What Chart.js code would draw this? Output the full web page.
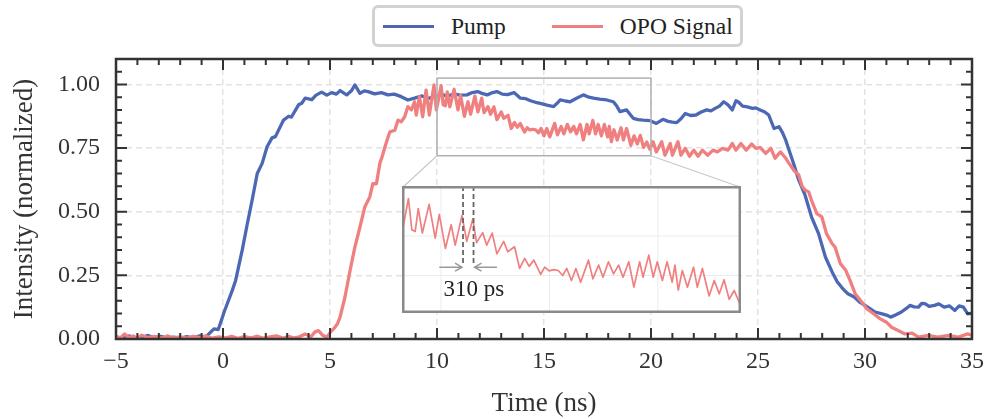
<!DOCTYPE html>
<html>
<head>
<meta charset="utf-8">
<script src="https://cdn.jsdelivr.net/npm/chart.js@4.4.1/dist/chart.umd.min.js"></script>
<style>
  html, body { margin: 0; padding: 0; background: #fff; }
  canvas { display: block; }
  #wrap { position: relative; width: 992px; height: 419px; }
  #inset { position: absolute; left: 402px; top: 186px; width: 339px; height: 127px; background: #fff; }
  #legend {
    position: absolute; left: 372px; top: 5px; width: 371px; height: 42px;
    box-sizing: border-box; border: 3px solid #d2d2d2; border-radius: 6px; background: #fff;
    display: flex; align-items: center; padding-left: 8px; white-space: nowrap;
    font-family: "Liberation Serif", "Times New Roman", serif; font-size: 23.5px; color: #222;
  }
  #legend .item { display: flex; align-items: center; margin-right: 46px; flex-shrink: 0; }
  #legend .swatch { width: 51px; height: 3px; margin-right: 17px; flex-shrink: 0; }
</style>
</head>
<body>
<div id="wrap">
  <canvas id="main" width="992" height="419"></canvas>
  <div id="inset"><canvas id="insetCanvas" width="339" height="127"></canvas></div>
  <div id="legend"></div>
</div>
<script>
// time axis in ns, intensity normalized
var pumpT = [
  -5, -4.7, -4.4, -4.1, -3.8, -3.5, -3.2, -2.9, -2.6, -2.3,
  -2, -1.7, -1.4, -1.1, -0.8, -0.6, -0.42, -0.22, 0.07, 0.43,
  0.59, 0.9, 1.13, 1.36, 1.6, 1.83, 2.06, 2.29, 2.45, 2.83,
  3.07, 3.2, 3.53, 3.68, 3.84, 4.15, 4.35, 4.61, 4.85, 5.08,
  5.3, 5.47, 5.78, 6, 6.16, 6.4, 6.6, 6.78, 7.09, 7.4,
  7.71, 8, 8.33, 8.64, 8.95, 9.3, 9.6, 9.9, 10.2, 10.5,
  10.8, 11.1, 11.4, 11.65, 11.9, 12.1, 12.35, 12.6, 12.8, 13.05,
  13.3, 13.6, 13.9, 14.15, 14.37, 14.6, 14.83, 15.14, 15.45, 15.6,
  15.76, 16, 16.22, 16.5, 16.84, 17.1, 17.31, 17.6, 17.93, 18.24,
  18.4, 18.55, 18.86, 19.17, 19.4, 19.63, 19.94, 20.25, 20.56, 20.8,
  21, 21.2, 21.4, 21.6, 21.85, 22.1, 22.35, 22.6, 22.8, 23,
  23.2, 23.4, 23.6, 23.8, 23.97, 24.1, 24.28, 24.5, 24.74, 24.9,
  25.1, 25.3, 25.5, 25.75, 25.98, 26.15, 26.3, 26.5, 26.7, 26.9,
  27.2, 27.5, 27.83, 28.15, 28.5, 28.7, 28.9, 29.05, 29.2, 29.5,
  29.75, 30, 30.25, 30.47, 30.8, 31, 31.2, 31.45, 31.7, 31.9,
  32.1, 32.3, 32.5, 32.65, 32.8, 33, 33.25, 33.45, 33.7, 33.95,
  34.2, 34.4, 34.6, 34.8, 35
];
var pumpV = [
  0.008, 0.003, 0.012, 0.004, 0.006, 0.014, 0.005, 0.01, 0.003, 0.007,
  0.002, 0.009, 0.004, 0.012, 0.008, 0.025, 0.04, 0.037, 0.11, 0.19,
  0.23, 0.35, 0.45, 0.545, 0.65, 0.69, 0.755, 0.79, 0.795, 0.86,
  0.875, 0.872, 0.92, 0.926, 0.946, 0.94, 0.958, 0.97, 0.958, 0.968,
  0.962, 0.976, 0.959, 0.975, 0.998, 0.965, 0.975, 0.972, 0.963, 0.968,
  0.959, 0.962, 0.952, 0.939, 0.946, 0.955, 0.945, 0.952, 0.96, 0.955,
  0.962, 0.958, 0.959, 0.968, 0.972, 0.965, 0.959, 0.968, 0.972, 0.962,
  0.96, 0.968, 0.946, 0.944, 0.936, 0.93, 0.926, 0.919, 0.913, 0.925,
  0.939, 0.935, 0.932, 0.945, 0.959, 0.95, 0.946, 0.942, 0.939, 0.932,
  0.915, 0.893, 0.9, 0.867, 0.862, 0.86, 0.858, 0.847, 0.863, 0.855,
  0.852, 0.85, 0.865, 0.886, 0.878, 0.88, 0.892, 0.9, 0.896, 0.906,
  0.915, 0.932, 0.92, 0.9, 0.936, 0.93, 0.915, 0.912, 0.906, 0.908,
  0.9, 0.893, 0.88, 0.827, 0.834, 0.81, 0.78, 0.73, 0.68, 0.625,
  0.565, 0.48, 0.414, 0.322, 0.257, 0.225, 0.204, 0.19, 0.178, 0.165,
  0.145, 0.132, 0.118, 0.106, 0.099, 0.094, 0.086, 0.095, 0.106, 0.118,
  0.132, 0.126, 0.125, 0.14, 0.139, 0.128, 0.132, 0.138, 0.125, 0.13,
  0.112, 0.13, 0.125, 0.099, 0.102
];
var sigT = [
  -5, -4.8, -4.6, -4.4, -4.2, -4, -3.8, -3.5, -3.2, -2.9,
  -2.6, -2.3, -2, -1.7, -1.4, -1.1, -0.8, -0.5, -0.2, 0.1,
  0.4, 0.7, 1, 1.3, 1.6, 1.9, 2.2, 2.5, 2.8, 3.1,
  3.3, 3.53, 3.84, 4.1, 4.3, 4.46, 4.65, 4.85, 5.05, 5.23,
  5.35, 5.47, 5.7, 5.94, 6.16, 6.4, 6.63, 6.86, 7, 7.17,
  7.33, 7.45, 7.57, 7.7, 7.8, 8.03, 8.18, 8.33, 8.49, 8.64,
  8.8, 8.95, 9.03, 9.18, 9.33, 9.49, 9.64, 9.86, 9.97, 10.01,
  10.19, 10.29, 10.39, 10.48, 10.6, 10.8, 10.98, 11.1, 11.28, 11.45,
  11.57, 11.77, 11.91, 12.09, 12.2, 12.38, 12.5, 12.66, 12.8, 13,
  13.12, 13.32, 13.47, 13.62, 13.75, 13.89, 14.09, 14.21, 14.34, 14.48,
  14.61, 14.74, 14.86, 15, 15.13, 15.27, 15.5, 15.63, 15.8, 15.93,
  16.09, 16.24, 16.39, 16.52, 16.69, 16.84, 17.01, 17.11, 17.28, 17.41,
  17.53, 17.68, 17.82, 17.97, 18.05, 18.15, 18.27, 18.42, 18.6, 18.71,
  18.86, 19.06, 19.21, 19.36, 19.5, 19.65, 19.8, 19.95, 20.1, 20.25,
  20.5, 20.65, 20.9, 21, 21.26, 21.4, 21.6, 21.8, 22, 22.2,
  22.4, 22.65, 22.9, 23.1, 23.35, 23.6, 23.8, 23.97, 24.2, 24.45,
  24.7, 24.9, 25.1, 25.36, 25.6, 25.8, 26.05, 26.3, 26.45, 26.7,
  26.9, 27.06, 27.2, 27.37, 27.5, 27.75, 27.98, 28.2, 28.46, 28.6,
  28.85, 29.1, 29.3, 29.54, 29.85, 30.08, 30.4, 30.7, 31, 31.24,
  31.55, 31.86, 32.2, 32.5, 32.96, 33.4, 33.9, 34.35, 34.8, 35
];
var sigV = [
  0.01, 0.004, 0.02, 0.006, 0.012, 0.003, 0.015, 0.005, 0.01, 0.003,
  0.012, 0.004, 0.008, 0.003, 0.01, 0.005, 0.012, 0.003, 0.008, 0.004,
  0.01, 0.003, 0.009, 0.004, 0.011, 0.003, 0.008, 0.012, 0.004, 0.01,
  0.004, 0.007, 0.02, 0.008, 0.028, 0.033, 0.015, 0.007, 0.03, 0.046,
  0.06, 0.086, 0.165, 0.27, 0.36, 0.44, 0.52, 0.558, 0.61, 0.61,
  0.69, 0.72, 0.755, 0.79, 0.814, 0.82, 0.86, 0.853, 0.873, 0.913,
  0.9, 0.932, 0.88, 0.952, 0.873, 0.978, 0.88, 0.998, 0.9, 0.916,
  0.995, 0.92, 0.916, 0.971, 0.912, 0.981, 0.9, 0.957, 0.875, 0.932,
  0.883, 0.954, 0.892, 0.946, 0.889, 0.913, 0.883, 0.912, 0.862, 0.892,
  0.867, 0.879, 0.827, 0.851, 0.832, 0.847, 0.813, 0.83, 0.821, 0.824,
  0.822, 0.81, 0.827, 0.798, 0.827, 0.794, 0.847, 0.802, 0.835, 0.806,
  0.843, 0.814, 0.835, 0.806, 0.843, 0.782, 0.843, 0.806, 0.859, 0.806,
  0.843, 0.798, 0.843, 0.794, 0.835, 0.775, 0.822, 0.782, 0.83, 0.782,
  0.827, 0.761, 0.798, 0.766, 0.8, 0.753, 0.774, 0.745, 0.775, 0.735,
  0.775, 0.722, 0.768, 0.722, 0.775, 0.722, 0.749, 0.718, 0.742, 0.718,
  0.742, 0.722, 0.742, 0.735, 0.749, 0.742, 0.768, 0.742, 0.768, 0.742,
  0.766, 0.749, 0.753, 0.729, 0.749, 0.71, 0.735, 0.71, 0.69, 0.66,
  0.645, 0.6, 0.585, 0.578, 0.545, 0.493, 0.48, 0.414, 0.375, 0.361,
  0.296, 0.27, 0.23, 0.178, 0.145, 0.119, 0.099, 0.08, 0.066, 0.046,
  0.033, 0.02, 0.023, 0.007, 0.014, 0.007, 0.014, 0.007, 0.02, 0.014
];
var yTicks = [0, 0.25, 0.5, 0.75, 1.0];

// zoom window shown in the inset (ns, intensity)
var zoomT = [10, 20];
var zoomV = [0.72, 1.025];
// 310 ps period marker in the inset
var periodT = [11.8, 12.11];
var insetGridT = [11.15, 14.35, 17.55];
var insetGridV = [0.81, 0.905];

var serif = '"Liberation Serif", "Times New Roman", serif';
var blue = '#4C68B4';
var coral = '#F08080';
var ink = '#333';

let toPts = (ts, vs) => ts.map((t, i) => ({ x: t, y: vs[i] }));

const framePlugin = {
  id: 'frame',
  afterDatasetsDraw(chart) {
    const ctx = chart.ctx, a = chart.chartArea, x = chart.scales.x, y = chart.scales.y;
    ctx.save();
    // zoom window
    const rx0 = x.getPixelForValue(zoomT[0]), rx1 = x.getPixelForValue(zoomT[1]);
    const ryTop = y.getPixelForValue(zoomV[1]), ryBot = y.getPixelForValue(zoomV[0]);
    ctx.strokeStyle = '#b0b0b0';
    ctx.lineWidth = 1.5;
    ctx.strokeRect(rx0, ryTop, rx1 - rx0, ryBot - ryTop);
    // connectors to inset box
    const box = document.getElementById('inset');
    const bl = box.offsetLeft + 1, br = box.offsetLeft + box.offsetWidth - 1, bt = box.offsetTop + 1;
    ctx.strokeStyle = '#c8c8c8';
    ctx.lineWidth = 1.2;
    ctx.beginPath();
    ctx.moveTo(rx0, ryBot); ctx.lineTo(bl, bt);
    ctx.moveTo(rx1, ryBot); ctx.lineTo(br, bt);
    ctx.stroke();
    // frame
    ctx.strokeStyle = ink;
    ctx.lineWidth = 2.5;
    ctx.strokeRect(a.left, a.top, a.right - a.left, a.bottom - a.top);
    // inward ticks on all four sides
    ctx.lineWidth = 2;
    ctx.beginPath();
    for (let k = -5; k <= 35; k++) {
      const px = x.getPixelForValue(k);
      const len = k % 5 === 0 ? 11 : 6;
      ctx.moveTo(px, a.bottom); ctx.lineTo(px, a.bottom - len);
      ctx.moveTo(px, a.top); ctx.lineTo(px, a.top + len);
    }
    for (let k = 0; k <= 22; k++) {
      const py = y.getPixelForValue(k * 0.05);
      const len = k % 5 === 0 ? 11 : 6;
      ctx.moveTo(a.left, py); ctx.lineTo(a.left + len, py);
      ctx.moveTo(a.right, py); ctx.lineTo(a.right - len, py);
    }
    ctx.stroke();
    ctx.restore();
  }
};

let mainChart = new Chart(document.getElementById('main'), {
  type: 'line',
  data: {
    datasets: [{
      label: 'Pump',
      data: toPts(pumpT, pumpV),
      borderColor: blue,
      borderWidth: 3.3,
      borderJoinStyle: 'round',
      borderCapStyle: 'round',
      pointRadius: 0,
      tension: 0,
      order: 1
    }, {
      label: 'OPO Signal',
      data: toPts(sigT, sigV),
      borderColor: coral,
      borderWidth: 3.3,
      borderJoinStyle: 'round',
      borderCapStyle: 'round',
      pointRadius: 0,
      tension: 0,
      order: 0
    }]
  },
  options: {
    responsive: false,
    animation: false,
    devicePixelRatio: 1,
    layout: { padding: { top: 59, right: 14, left: 0, bottom: 0 } },
    plugins: { legend: { display: false }, tooltip: { enabled: false } },
    scales: {
      x: {
        type: 'linear',
        min: -5,
        max: 35,
        afterFit: s => { s.height = 80; },
        ticks: {
          stepSize: 5,
          padding: 8,
          color: ink,
          font: { family: serif, size: 24 },
          callback: v => v < 0 ? '\u2212' + Math.abs(v) : String(v)
        },
        grid: { color: '#e3e3e3', lineWidth: 1.5, drawTicks: false },
        border: { display: false, dash: [6, 4] },
        title: {
          display: true,
          text: 'Time (ns)',
          color: ink,
          font: { family: serif, size: 27, lineHeight: 1 },
          padding: { top: 0, bottom: 2 }
        }
      },
      y: {
        min: 0,
        max: 1.1,
        afterFit: s => { s.width = 116; },
        afterBuildTicks: s => {
          s.ticks = yTicks.map(v => ({ value: v }));
        },
        ticks: {
          padding: 16,
          color: ink,
          font: { family: serif, size: 24 },
          callback: v => Number(v).toFixed(2)
        },
        grid: { color: '#e3e3e3', lineWidth: 1.5, drawTicks: false },
        border: { display: false, dash: [6, 4] },
        title: {
          display: true,
          text: 'Intensity (normalized)',
          color: ink,
          font: { family: serif, size: 27, lineHeight: 1 },
          padding: { top: 11, bottom: 0 }
        }
      }
    }
  },
  plugins: [framePlugin]
});

// inset: zoom on the OPO signal
const insetPlugin = {
  id: 'insetDeco',
  beforeDatasetsDraw(chart) {
    const ctx = chart.ctx, a = chart.chartArea, x = chart.scales.x, y = chart.scales.y;
    ctx.save();
    ctx.strokeStyle = '#ececec';
    ctx.lineWidth = 1;
    ctx.beginPath();
    insetGridT.forEach(t => { const px = x.getPixelForValue(t); ctx.moveTo(px, a.top); ctx.lineTo(px, a.bottom); });
    insetGridV.forEach(v => { const py = y.getPixelForValue(v); ctx.moveTo(a.left, py); ctx.lineTo(a.right, py); });
    ctx.stroke();
    ctx.restore();
  },
  afterDatasetsDraw(chart) {
    const ctx = chart.ctx, a = chart.chartArea, x = chart.scales.x, y = chart.scales.y;
    const w = chart.width, h = chart.height;
    ctx.save();
    // period markers
    const p0 = x.getPixelForValue(periodT[0]), p1 = x.getPixelForValue(periodT[1]);
    const yEnd = y.getPixelForValue(0.835), yArr = y.getPixelForValue(0.83);
    ctx.strokeStyle = '#666';
    ctx.lineWidth = 1.8;
    ctx.setLineDash([5, 3]);
    ctx.beginPath();
    ctx.moveTo(p0, a.top); ctx.lineTo(p0, yEnd);
    ctx.moveTo(p1, a.top); ctx.lineTo(p1, yEnd);
    ctx.stroke();
    ctx.setLineDash([]);
    // arrows pointing at the markers
    const aL = x.getPixelForValue(11.1), aR = x.getPixelForValue(12.8);
    ctx.strokeStyle = '#999';
    ctx.lineWidth = 1.5;
    ctx.beginPath();
    ctx.moveTo(aL, yArr); ctx.lineTo(p0 - 1, yArr);
    ctx.moveTo(p0 - 8, yArr - 4); ctx.lineTo(p0 - 1, yArr); ctx.lineTo(p0 - 8, yArr + 4);
    ctx.moveTo(aR, yArr); ctx.lineTo(p1 + 1, yArr);
    ctx.moveTo(p1 + 8, yArr - 4); ctx.lineTo(p1 + 1, yArr); ctx.lineTo(p1 + 8, yArr + 4);
    ctx.stroke();
    ctx.fillStyle = '#222';
    ctx.font = '23px ' + serif;
    ctx.textAlign = 'center';
    ctx.textBaseline = 'middle';
    ctx.fillText('310 ps', x.getPixelForValue(12.12), y.getPixelForValue(0.775));
    // frame
    ctx.strokeStyle = '#8a8a8a';
    ctx.lineWidth = 2.5;
    ctx.strokeRect(1.25, 1.25, w - 2.5, h - 2.5);
    ctx.restore();
  }
};

let insetChart = new Chart(document.getElementById('insetCanvas'), {
  type: 'line',
  data: {
    datasets: [{
      label: 'OPO Signal',
      data: toPts(sigT, sigV),
      borderColor: coral,
      borderWidth: 1.7,
      borderJoinStyle: 'round',
      pointRadius: 0,
      tension: 0
    }]
  },
  options: {
    responsive: false,
    animation: false,
    devicePixelRatio: 1,
    layout: { padding: 0 },
    plugins: { legend: { display: false }, tooltip: { enabled: false } },
    scales: {
      x: { type: 'linear', display: false, min: zoomT[0], max: zoomT[1] },
      y: { display: false, min: zoomV[0], max: zoomV[1] }
    }
  },
  plugins: [insetPlugin]
});

// legend box
var legendDiv = document.getElementById('legend');
mainChart.data.datasets.forEach(ds => {
  let item = document.createElement('div');
  item.className = 'item';
  let sw = document.createElement('span');
  sw.className = 'swatch';
  sw.style.background = ds.borderColor;
  let txt = document.createElement('span');
  txt.textContent = ds.label;
  item.appendChild(sw);
  item.appendChild(txt);
  legendDiv.appendChild(item);
});
</script>
</body>
</html>
